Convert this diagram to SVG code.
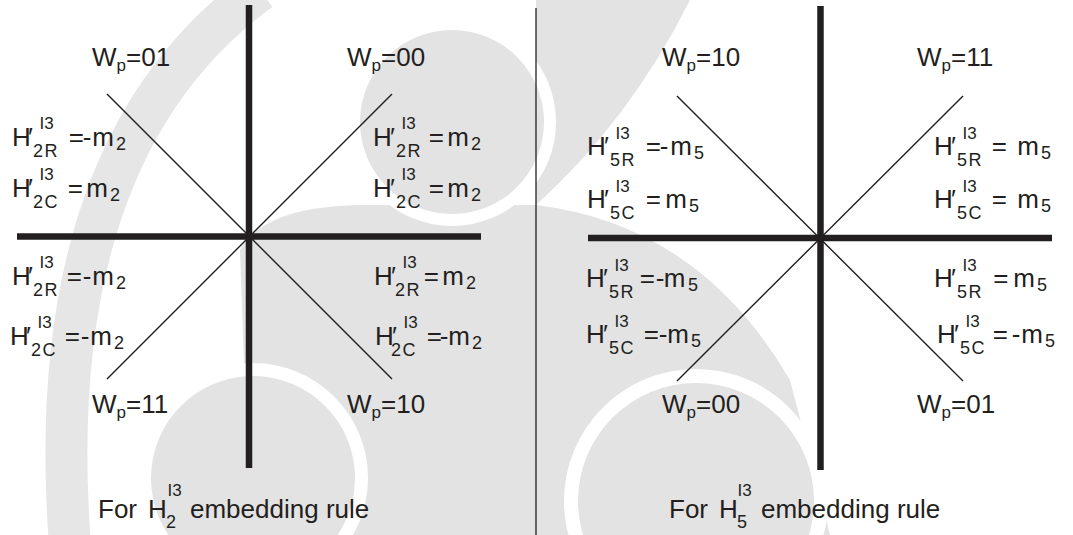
<svg xmlns="http://www.w3.org/2000/svg" width="1073" height="535" viewBox="0 0 1073 535">
<style>
text{font-family:"Liberation Sans",Arial,sans-serif;fill:#231f20;font-size:26px}
.s{font-size:17px}
.sb{font-size:18px;letter-spacing:1.5px}
.d{font-size:18px}
.thick{stroke:#231f20;stroke-width:6.5;fill:none}
.thin{stroke:#231f20;stroke-width:1.4;fill:none}
.sep{stroke:#231f20;stroke-width:1.3;fill:none}
.wm{fill:#e3e3e3}
.wh{fill:#ffffff}
</style>
<rect width="1073" height="535" fill="#ffffff"/>
<g id="watermark">
<path d="M260 -10 Q40 150 70 545" fill="none" stroke="#e6e6e6" stroke-width="42"/>
<path class="wm" d="M536 0 L690 0 Q630 120 536 205 Z"/>
<path class="wm" d="M240 250 C260 215 310 205 370 205 L536 205 L536 535 L250 535 Z"/>
<path class="wm" d="M536 205 Q700 225 790 380 L830 535 L536 535 Z"/>
<circle class="wh" cx="452" cy="122" r="104"/>
<circle class="wm" cx="452" cy="122" r="92"/>
<circle class="wh" cx="253" cy="478" r="115"/>
<circle class="wm" cx="253" cy="478" r="102"/>
<circle class="wh" cx="696" cy="501" r="132"/>
<circle class="wm" cx="696" cy="501" r="118"/>
</g>
<g id="connectors">
<line class="thick" x1="249" y1="5" x2="249" y2="468"/>
<line class="thick" x1="17" y1="236.5" x2="481" y2="236.5"/>
<line class="thin" x1="107" y1="94" x2="392" y2="379"/>
<line class="thin" x1="392" y1="94" x2="107" y2="379"/>
<line class="thick" x1="820.5" y1="6" x2="820.5" y2="470"/>
<line class="thick" x1="588" y1="238" x2="1052" y2="238"/>
<line class="thin" x1="677" y1="96" x2="963" y2="381"/>
<line class="thin" x1="963" y1="96" x2="677" y2="381"/>
<line class="sep" x1="536" y1="8" x2="536" y2="535"/>
</g>
<g id="wp-left">
<text x="92" y="66">W<tspan class="s" font-size="19" dy="5">p</tspan><tspan dy="-5">=01</tspan></text>
<text x="347" y="66">W<tspan class="s" font-size="19" dy="5">p</tspan><tspan dy="-5">=00</tspan></text>
<text x="92" y="413">W<tspan class="s" font-size="19" dy="5">p</tspan><tspan dy="-5">=11</tspan></text>
<text x="347" y="413">W<tspan class="s" font-size="19" dy="5">p</tspan><tspan dy="-5">=10</tspan></text>
</g>
<g id="wp-right">
<text x="662" y="66">W<tspan class="s" font-size="19" dy="5">p</tspan><tspan dy="-5">=10</tspan></text>
<text x="917" y="66">W<tspan class="s" font-size="19" dy="5">p</tspan><tspan dy="-5">=11</tspan></text>
<text x="662" y="413">W<tspan class="s" font-size="19" dy="5">p</tspan><tspan dy="-5">=00</tspan></text>
<text x="917" y="413">W<tspan class="s" font-size="19" dy="5">p</tspan><tspan dy="-5">=01</tspan></text>
</g>
<g id="lbl-L1"><text x="12" y="146">H<tspan x="28" y="146">′</tspan><tspan class="s" x="39.5" y="129">I3</tspan><tspan class="sb" x="33" y="157">2R</tspan><tspan x="68.7" y="146">=</tspan><tspan x="82.7" y="146">-</tspan><tspan x="92.3" y="146">m</tspan><tspan class="d" x="116" y="150">2</tspan></text></g>
<g id="lbl-L2"><text x="12" y="197">H<tspan x="28" y="197">′</tspan><tspan class="s" x="39.5" y="180">I3</tspan><tspan class="sb" x="33" y="208">2C</tspan><tspan x="67.7" y="197">=</tspan><tspan x="86.3" y="197">m</tspan><tspan class="d" x="110" y="201">2</tspan></text></g>
<g id="lbl-R1"><text x="373" y="146">H<tspan x="390" y="146">′</tspan><tspan class="s" x="401.5" y="129">I3</tspan><tspan class="sb" x="396" y="157">2R</tspan><tspan x="428.7" y="146">=</tspan><tspan x="447.3" y="146">m</tspan><tspan class="d" x="471" y="150">2</tspan></text></g>
<g id="lbl-R2"><text x="373" y="197">H<tspan x="390" y="197">′</tspan><tspan class="s" x="401.5" y="180">I3</tspan><tspan class="sb" x="396" y="208">2C</tspan><tspan x="428.7" y="197">=</tspan><tspan x="447.3" y="197">m</tspan><tspan class="d" x="471" y="201">2</tspan></text></g>
<g id="lbl-L3"><text x="12" y="285">H<tspan x="28" y="285">′</tspan><tspan class="s" x="39.5" y="268">I3</tspan><tspan class="sb" x="33" y="296">2R</tspan><tspan x="66.7" y="285">=</tspan><tspan x="82.7" y="285">-</tspan><tspan x="92.3" y="285">m</tspan><tspan class="d" x="116" y="289">2</tspan></text></g>
<g id="lbl-L4"><text x="10" y="345">H<tspan x="26" y="345">′</tspan><tspan class="s" x="37.5" y="328">I3</tspan><tspan class="sb" x="31" y="356">2C</tspan><tspan x="64.7" y="345">=</tspan><tspan x="80.7" y="345">-</tspan><tspan x="90.3" y="345">m</tspan><tspan class="d" x="114" y="349">2</tspan></text></g>
<g id="lbl-R3"><text x="374" y="285">H<tspan x="391" y="285">′</tspan><tspan class="s" x="402.5" y="268">I3</tspan><tspan class="sb" x="395" y="296">2R</tspan><tspan x="423.7" y="285">=</tspan><tspan x="442.3" y="285">m</tspan><tspan class="d" x="466" y="289">2</tspan></text></g>
<g id="lbl-R4"><text x="375" y="345">H<tspan x="392" y="345">′</tspan><tspan class="s" x="403.5" y="328">I3</tspan><tspan class="sb" x="391" y="356">2C</tspan><tspan x="426.7" y="345">=</tspan><tspan x="439.7" y="345">-</tspan><tspan x="448.3" y="345">m</tspan><tspan class="d" x="472" y="349">2</tspan></text></g>
<g id="lbl-RL1"><text x="587" y="155">H<tspan x="604" y="155">′</tspan><tspan class="s" x="615.5" y="139">I3</tspan><tspan class="sb" x="610" y="166">5R</tspan><tspan x="645.7" y="155">=</tspan><tspan x="659.7" y="155">-</tspan><tspan x="670.3" y="155">m</tspan><tspan class="d" x="694" y="159">5</tspan></text></g>
<g id="lbl-RL2"><text x="587" y="208">H<tspan x="604" y="208">′</tspan><tspan class="s" x="615.5" y="192">I3</tspan><tspan class="sb" x="610" y="219">5C</tspan><tspan x="645.7" y="208">=</tspan><tspan x="665.3" y="208">m</tspan><tspan class="d" x="689" y="212">5</tspan></text></g>
<g id="lbl-RR1"><text x="934" y="155">H<tspan x="951" y="155">′</tspan><tspan class="s" x="962.5" y="139">I3</tspan><tspan class="sb" x="957" y="166">5R</tspan><tspan x="991.7" y="155">=</tspan><tspan x="1017.3" y="155">m</tspan><tspan class="d" x="1041" y="159">5</tspan></text></g>
<g id="lbl-RR2"><text x="934" y="208">H<tspan x="951" y="208">′</tspan><tspan class="s" x="962.5" y="192">I3</tspan><tspan class="sb" x="957" y="219">5C</tspan><tspan x="991.7" y="208">=</tspan><tspan x="1017.3" y="208">m</tspan><tspan class="d" x="1041" y="212">5</tspan></text></g>
<g id="lbl-RL3"><text x="586" y="287">H<tspan x="603" y="287">′</tspan><tspan class="s" x="614.5" y="271">I3</tspan><tspan class="sb" x="609" y="298">5R</tspan><tspan x="639.7" y="287">=</tspan><tspan x="655.7" y="287">-</tspan><tspan x="663.8" y="287">m</tspan><tspan class="d" x="688" y="291">5</tspan></text></g>
<g id="lbl-RL4"><text x="586" y="343">H<tspan x="603" y="343">′</tspan><tspan class="s" x="614.5" y="327">I3</tspan><tspan class="sb" x="609" y="354">5C</tspan><tspan x="643.7" y="343">=</tspan><tspan x="658.7" y="343">-</tspan><tspan x="667.3" y="343">m</tspan><tspan class="d" x="691" y="347">5</tspan></text></g>
<g id="lbl-RR3"><text x="934" y="287">H<tspan x="951" y="287">′</tspan><tspan class="s" x="962.5" y="271">I3</tspan><tspan class="sb" x="957" y="298">5R</tspan><tspan x="993.2" y="287">=</tspan><tspan x="1013.3" y="287">m</tspan><tspan class="d" x="1037" y="291">5</tspan></text></g>
<g id="lbl-RR4"><text x="937" y="343">H<tspan x="954" y="343">′</tspan><tspan class="s" x="965.5" y="327">I3</tspan><tspan class="sb" x="960" y="354">5C</tspan><tspan x="992.7" y="343">=</tspan><tspan x="1011.7" y="343">-</tspan><tspan x="1021.3" y="343">m</tspan><tspan class="d" x="1045" y="347">5</tspan></text></g>
<g id="title-left"><text x="98" y="518">For<tspan x="148" y="518">H</tspan><tspan class="s" x="167.5" y="496">I3</tspan><tspan class="d" x="166" y="528">2</tspan><tspan x="190" y="518">embedding rule</tspan></text></g>
<g id="title-right"><text x="669" y="518">For<tspan x="719" y="518">H</tspan><tspan class="s" x="737.5" y="496">I3</tspan><tspan class="d" x="737" y="528">5</tspan><tspan x="761" y="518">embedding rule</tspan></text></g>
</svg>
